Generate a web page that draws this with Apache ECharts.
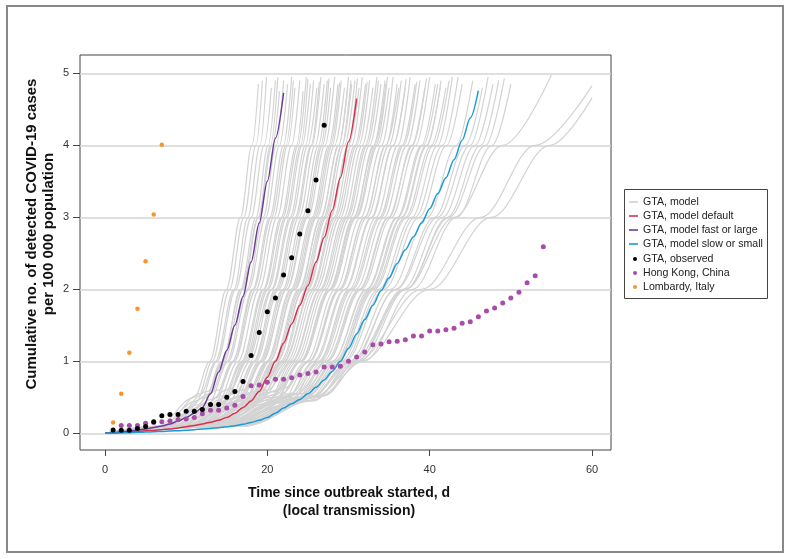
<!DOCTYPE html>
<html>
<head>
<meta charset="utf-8">
<script src="https://cdn.jsdelivr.net/npm/echarts@6/dist/echarts.min.js"></script>
<style>
html,body{margin:0;padding:0;background:#fff;}
#chart{width:791px;height:559px;}
</style>
</head>
<body>
<div id="chart"></div>
<script>
// ---------- DATA ----------
const xTicks = [0, 20, 40, 60];
const yTicks = [0, 1, 2, 3, 4, 5];

// GTA observed, days 1..27
const gtaObserved = [0.046, 0.042, 0.042, 0.065, 0.093, 0.16, 0.245, 0.26, 0.26, 0.305, 0.305, 0.33, 0.40, 0.40, 0.50, 0.58, 0.72, 1.08, 1.40, 1.69, 1.88, 2.20, 2.44, 2.77, 3.09, 3.52, 4.28];
const gtaObservedStartDay = 1;

// Hong Kong, China, days 2..54
const hongKong = [0.11, 0.11, 0.11, 0.14, 0.15, 0.16, 0.17, 0.19, 0.20, 0.22, 0.27, 0.32, 0.32, 0.35, 0.39, 0.51, 0.66, 0.67, 0.71, 0.75, 0.75, 0.77, 0.81, 0.83, 0.85, 0.92, 0.92, 0.93, 1.00, 1.06, 1.13, 1.23, 1.24, 1.27, 1.28, 1.30, 1.35, 1.35, 1.42, 1.42, 1.44, 1.46, 1.53, 1.55, 1.62, 1.70, 1.74, 1.81, 1.88, 1.96, 2.09, 2.19, 2.59];
const hongKongStartDay = 2;

// Lombardy, Italy, days 1..7
const lombardy = [0.15, 0.55, 1.12, 1.73, 2.39, 3.04, 4.01];
const lombardyStartDay = 1;

// Model runs (daily from day 0)
const modelDefault = [0, 0.005, 0.01, 0.02, 0.025, 0.035, 0.04, 0.05, 0.06, 0.075, 0.09, 0.11, 0.13, 0.155, 0.18, 0.22, 0.28, 0.36, 0.45, 0.58, 0.78, 1.0, 1.25, 1.52, 1.78, 2.05, 2.38, 2.72, 3.1, 3.55, 4.05, 4.65];
const modelFast = [0, 0.01, 0.02, 0.03, 0.045, 0.06, 0.08, 0.1, 0.13, 0.17, 0.22, 0.28, 0.36, 0.55, 0.85, 1.15, 1.5, 1.9, 2.38, 2.92, 3.5, 4.1, 4.73];
const modelSlow = [0, 0.003, 0.006, 0.009, 0.013, 0.017, 0.021, 0.026, 0.031, 0.037, 0.044, 0.051, 0.059, 0.068, 0.078, 0.09, 0.105, 0.125, 0.15, 0.18, 0.22, 0.28, 0.35, 0.41, 0.47, 0.55, 0.64, 0.74, 0.86, 1.0, 1.18, 1.38, 1.58, 1.78, 1.98, 2.16, 2.36, 2.55, 2.73, 2.92, 3.12, 3.33, 3.55, 3.8, 4.07, 4.38, 4.76];

// GTA model runs (grey): days at which each run reaches the levels below,
// row = [day@0.1, kinkDay, kinkValue, day@1, day@2, day@3, day@4, endDay, endValue]
const grayLevels = [0.1, 1, 2, 3, 4];
const grayRuns = [
  [6.5, 11.0, 0.50, 12.9, 14.95, 16.7, 18.1, 18.9, 4.85],
  [6.8, 11.3, 0.45, 13.2, 15.35, 17.1, 18.6, 19.4, 4.9],
  [7.0, 11.8, 0.55, 13.6, 15.9, 17.6, 19.1, 19.9, 4.95],
  [7.2, 11.6, 0.40, 13.8, 16.1, 18.0, 19.6, 20.5, 4.8],
  [7.5, 12.4, 0.50, 14.5, 16.7, 18.6, 20.1, 21.0, 4.9],
  [7.8, 12.6, 0.58, 14.7, 17.0, 18.9, 20.4, 21.3, 4.95],
  [7.3, 12.0, 0.38, 14.4, 16.8, 18.9, 20.6, 21.5, 4.75],
  [8.0, 13.0, 0.55, 15.0, 17.5, 19.5, 21.1, 22.0, 4.9],
  [7.6, 12.8, 0.42, 15.2, 17.7, 19.8, 21.5, 22.5, 4.85],
  [8.2, 13.5, 0.48, 15.7, 18.2, 20.3, 22.0, 23.0, 4.95],
  [8.4, 13.3, 0.36, 15.9, 18.3, 20.5, 22.3, 23.2, 4.9],
  [8.5, 14.0, 0.60, 15.9, 18.6, 20.8, 22.5, 23.4, 4.8],
  [8.3, 13.8, 0.40, 16.4, 19.0, 21.2, 23.0, 24.0, 4.9],
  [9.0, 14.6, 0.52, 16.8, 19.5, 21.7, 23.6, 24.4, 4.75],
  [8.6, 14.2, 0.35, 17.0, 19.6, 21.9, 23.8, 24.8, 4.95],
  [9.3, 14.8, 0.45, 17.2, 19.9, 22.2, 24.1, 25.0, 4.92],
  [9.2, 15.0, 0.50, 17.4, 20.1, 22.4, 24.3, 25.3, 4.85],
  [9.6, 15.5, 0.62, 17.5, 20.5, 22.8, 24.7, 25.7, 4.9],
  [9.1, 15.2, 0.42, 17.9, 20.6, 23.0, 25.0, 26.1, 4.8],
  [9.9, 15.9, 0.48, 18.3, 21.0, 23.4, 25.4, 26.4, 4.88],
  [9.8, 16.0, 0.55, 18.4, 21.2, 23.6, 25.5, 26.6, 4.95],
  [9.5, 15.8, 0.38, 18.6, 21.4, 23.9, 25.9, 27.0, 4.85],
  [10.0, 16.5, 0.50, 19.0, 21.9, 24.3, 26.3, 27.4, 4.9],
  [10.2, 16.8, 0.52, 19.2, 22.1, 24.6, 26.6, 27.6, 4.93],
  [10.5, 17.0, 0.60, 19.3, 22.4, 24.8, 26.8, 27.8, 4.8],
  [10.0, 16.6, 0.44, 19.4, 22.4, 25.0, 27.1, 28.3, 4.95],
  [10.4, 17.2, 0.48, 19.9, 22.9, 25.5, 27.6, 28.7, 4.85],
  [10.7, 17.3, 0.46, 20.0, 23.1, 25.7, 27.8, 28.9, 4.87],
  [10.8, 17.6, 0.55, 20.2, 23.3, 25.9, 28.0, 29.1, 4.9],
  [10.5, 17.4, 0.40, 20.3, 23.4, 26.1, 28.3, 29.5, 4.8],
  [11.2, 18.1, 0.55, 20.7, 23.9, 26.6, 28.8, 29.9, 4.8],
  [11.0, 18.0, 0.50, 20.9, 24.0, 26.6, 28.8, 30.0, 4.95],
  [11.3, 17.9, 0.36, 21.0, 24.2, 26.9, 29.2, 30.3, 4.9],
  [11.4, 18.5, 0.58, 21.2, 24.4, 27.1, 29.2, 30.4, 4.85],
  [11.0, 18.2, 0.42, 21.2, 24.5, 27.3, 29.5, 30.8, 4.9],
  [11.7, 18.7, 0.47, 21.6, 24.9, 27.7, 30.0, 31.1, 4.93],
  [11.5, 18.8, 0.50, 21.8, 25.0, 27.8, 30.0, 31.3, 4.8],
  [11.9, 19.2, 0.60, 22.0, 25.4, 28.2, 30.4, 31.7, 4.95],
  [11.6, 19.0, 0.45, 22.1, 25.5, 28.4, 30.8, 32.1, 4.85],
  [12.2, 19.4, 0.55, 22.4, 25.8, 28.7, 31.0, 32.3, 4.88],
  [12.0, 19.6, 0.52, 22.7, 26.1, 29.0, 31.3, 32.6, 4.9],
  [12.4, 20.0, 0.60, 23.0, 26.5, 29.4, 31.7, 33.0, 4.8],
  [12.0, 19.8, 0.40, 23.1, 26.6, 29.7, 32.1, 33.5, 4.95],
  [12.3, 20.2, 0.46, 23.4, 26.9, 29.9, 32.3, 33.7, 4.9],
  [12.6, 20.5, 0.50, 23.7, 27.2, 30.2, 32.6, 34.0, 4.85],
  [13.0, 21.0, 0.58, 24.1, 27.7, 30.7, 33.1, 34.5, 4.9],
  [12.9, 20.6, 0.40, 24.0, 27.6, 30.6, 33.2, 34.6, 4.85],
  [13.1, 20.9, 0.53, 24.2, 27.8, 30.9, 33.4, 34.8, 4.95],
  [12.8, 20.8, 0.44, 24.2, 27.9, 31.0, 33.6, 35.0, 4.8],
  [13.2, 21.4, 0.50, 24.8, 28.4, 31.5, 34.1, 35.5, 4.95],
  [13.8, 22.0, 0.62, 25.2, 28.9, 32.0, 34.6, 36.0, 4.85],
  [13.5, 21.8, 0.56, 25.1, 28.8, 32.0, 34.6, 36.2, 4.8],
  [13.2, 21.6, 0.42, 25.2, 29.0, 32.3, 35.0, 36.5, 4.9],
  [13.8, 22.4, 0.50, 25.9, 29.6, 32.9, 35.5, 37.0, 4.8],
  [13.6, 22.2, 0.45, 25.7, 29.5, 32.8, 35.5, 37.1, 4.92],
  [14.1, 22.8, 0.55, 26.3, 30.1, 33.4, 36.1, 37.6, 4.95],
  [13.8, 22.6, 0.40, 26.4, 30.3, 33.8, 36.6, 38.2, 4.85],
  [14.2, 22.9, 0.52, 26.6, 30.5, 34.0, 36.8, 38.4, 4.88],
  [14.3, 23.2, 0.50, 26.9, 30.9, 34.4, 37.2, 38.8, 4.9],
  [14.6, 23.6, 0.55, 27.4, 31.4, 35.0, 37.8, 39.4, 4.8],
  [14.5, 23.5, 0.48, 27.2, 31.3, 34.9, 37.9, 39.6, 4.93],
  [14.3, 23.4, 0.42, 27.4, 31.6, 35.3, 38.3, 40.0, 4.95],
  [14.8, 24.0, 0.50, 28.0, 32.2, 36.0, 39.0, 40.7, 4.85],
  [14.9, 24.1, 0.55, 28.0, 32.3, 36.1, 39.2, 41.0, 4.85],
  [15.2, 24.0, 0.44, 28.3, 32.6, 36.5, 39.6, 41.3, 4.8],
  [15.2, 24.4, 0.55, 28.5, 32.8, 36.6, 39.7, 41.4, 4.9],
  [15.0, 24.2, 0.45, 28.5, 33.0, 37.0, 40.2, 42.0, 4.8],
  [15.3, 24.6, 0.47, 28.7, 33.2, 37.2, 40.5, 42.4, 4.9],
  [15.5, 24.8, 0.50, 29.1, 33.7, 37.8, 41.0, 42.8, 4.95],
  [15.6, 24.9, 0.52, 29.4, 34.0, 38.2, 41.6, 43.5, 4.95],
  [15.8, 25.0, 0.48, 29.6, 34.4, 38.7, 42.1, 44.0, 4.85],
  [16.0, 25.3, 0.50, 30.1, 35.2, 39.7, 43.3, 45.3, 4.9],
  [16.2, 25.5, 0.52, 30.5, 35.8, 40.6, 44.4, 46.5, 4.8],
  [16.0, 25.0, 0.45, 30.3, 35.9, 41.0, 45.0, 47.2, 4.95],
  [16.4, 25.8, 0.50, 31.0, 36.7, 41.6, 45.6, 47.8, 4.85],
  [16.6, 26.0, 0.52, 31.4, 37.1, 42.2, 46.3, 48.5, 4.9],
  [16.3, 25.6, 0.46, 31.0, 37.0, 42.4, 46.9, 49.2, 4.93],
  [16.8, 26.2, 0.50, 31.9, 37.9, 43.3, 47.7, 50.0, 4.85],
  [16.3, 25.7, 0.45, 30.5, 37.0, 43.0, 49.0, 55.0, 4.98],
  [17.0, 26.9, 0.52, 31.0, 39.0, 46.3, 53.0, 60.0, 4.83],
  [17.0, 26.9, 0.52, 31.5, 40.0, 47.6, 54.8, 60.0, 4.66]
];

const legendLines = ['GTA, model', 'GTA, model default', 'GTA, model fast or large', 'GTA, model slow or small'];
const legendDots = ['GTA, observed', 'Hong Kong, China', 'Lombardy, Italy'];

// ---------- BUILD ----------
const FONT = "'Liberation Sans', Arial, Helvetica, sans-serif";
function daily(arr, start) { return arr.map((v, i) => [start + i, v]); }
function grayPoints(r) {
  return [[0, 0], [r[0], grayLevels[0]], [r[1], r[2]], [r[3], grayLevels[1]], [r[4], grayLevels[2]], [r[5], grayLevels[3]], [r[6], grayLevels[4]], [r[7], r[8]]];
}

const series = [];
grayRuns.forEach(r => {
  series.push({
    name: 'GTA, model', type: 'line', data: grayPoints(r),
    smooth: 0.35, smoothMonotone: 'x', showSymbol: false, symbol: 'none', silent: true,
    lineStyle: { color: '#d3d3d3', width: 1.2 }, itemStyle: { color: '#d3d3d3' }, z: 1
  });
});
function modelLine(name, data, color) {
  return { name, type: 'line', data: daily(data, 0), smooth: 0.3, smoothMonotone: 'x',
    showSymbol: false, symbol: 'none', lineStyle: { color, width: 1.5 }, itemStyle: { color }, z: 3 };
}
series.push(modelLine('GTA, model default', modelDefault, '#d7304c'));
series.push(modelLine('GTA, model fast or large', modelFast, '#6b3d99'));
series.push(modelLine('GTA, model slow or small', modelSlow, '#1b9ad6'));
function dots(name, data, start, color, size) {
  return { name, type: 'scatter', data: daily(data, start), symbol: 'circle', symbolSize: size,
    itemStyle: { color, opacity: 1 }, z: 5 };
}
series.push(dots('Hong Kong, China', hongKong, hongKongStartDay, '#a84ca8', 5));
series.push(dots('GTA, observed', gtaObserved, gtaObservedStartDay, '#000000', 5));
series.push(dots('Lombardy, Italy', lombardy, lombardyStartDay, '#f7962b', 4.5));

const chart = echarts.init(document.getElementById('chart'), null, { renderer: 'canvas' });
chart.setOption({
  animation: false,
  backgroundColor: '#ffffff',
  grid: { left: 80, top: 55, right: 180, bottom: 109, show: true, borderColor: '#444', borderWidth: 1, backgroundColor: 'transparent' },
  xAxis: {
    type: 'value', min: -3.08, max: 62.34, position: 'bottom',
    axisLine: { show: false, onZero: false },
    axisTick: { show: true, inside: false, length: 6, customValues: xTicks, lineStyle: { color: '#444' } },
    axisLabel: { customValues: xTicks, color: '#333', fontSize: 11, fontFamily: FONT, margin: 14 },
    splitLine: { show: false }
  },
  yAxis: {
    type: 'value', min: -0.232, max: 5.255, position: 'left',
    axisLine: { show: false, onZero: false },
    axisTick: { show: true, inside: false, length: 7, customValues: yTicks, lineStyle: { color: '#444' } },
    axisLabel: { customValues: yTicks, color: '#333', fontSize: 11, fontFamily: FONT, margin: 11 },
    splitLine: { show: true, lineStyle: { color: '#d4d4d4', width: 1.5 } }
  },
  legend: [
    { data: legendLines, orient: 'vertical', left: 629, top: 195, itemWidth: 9, itemHeight: 1.6, itemGap: 0, padding: 0,
      icon: 'rect', textStyle: { fontSize: 10.6, fontFamily: FONT, color: '#222', lineHeight: 14 }, selectedMode: false },
    { data: legendDots, orient: 'vertical', left: 633, top: 252, itemWidth: 4, itemHeight: 4, itemGap: 0, padding: 0,
      icon: 'circle', textStyle: { fontSize: 10.6, fontFamily: FONT, color: '#222', lineHeight: 14, padding: [0, 0, 0, 1] }, selectedMode: false }
  ],
  graphic: [
    { type: 'rect', shape: { x: 7, y: 6, width: 776, height: 546 }, style: { fill: null, stroke: '#888', lineWidth: 2 }, silent: true },
    { type: 'rect', shape: { x: 624.5, y: 189.5, width: 143, height: 109 }, style: { fill: null, stroke: '#444', lineWidth: 1 }, silent: true },
    { type: 'text', x: 40.5, y: 234, rotation: Math.PI / 2,
      style: { text: 'Cumulative no. of detected COVID-19 cases\nper 100 000 population', font: 'bold 15px ' + FONT, fill: '#111', align: 'center', verticalAlign: 'middle', lineHeight: 17 } },
    { type: 'text', x: 349, y: 502,
      style: { text: 'Time since outbreak started, d\n(local transmission)', font: 'bold 14px ' + FONT, fill: '#111', align: 'center', verticalAlign: 'middle', lineHeight: 18 } }
  ],
  series
});
</script>
</body>
</html>
